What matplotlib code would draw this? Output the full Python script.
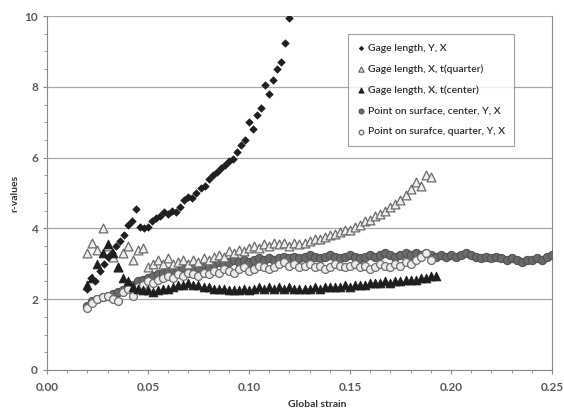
import matplotlib
matplotlib.use('Agg')
import matplotlib.pyplot as plt
from matplotlib.ticker import MultipleLocator, FormatStrFormatter

# shared strain grid (0.0025 steps) used by the four long series
strain = [0.0200, 0.0225, 0.0250, 0.0275, 0.0300, 0.0325, 0.0350, 0.0375, 0.0400, 0.0425,
          0.0450, 0.0475, 0.0500, 0.0525, 0.0550, 0.0575, 0.0600, 0.0625, 0.0650, 0.0675,
          0.0700, 0.0725, 0.0750, 0.0775, 0.0800, 0.0825, 0.0850, 0.0875, 0.0900, 0.0925,
          0.0950, 0.0975, 0.1000, 0.1025, 0.1050, 0.1075, 0.1100, 0.1125, 0.1150, 0.1175,
          0.1200, 0.1225, 0.1250, 0.1275, 0.1300, 0.1325, 0.1350, 0.1375, 0.1400, 0.1425,
          0.1450, 0.1475, 0.1500, 0.1525, 0.1550, 0.1575, 0.1600, 0.1625, 0.1650, 0.1675,
          0.1700, 0.1725, 0.1750, 0.1775, 0.1800, 0.1825, 0.1850, 0.1875, 0.1900, 0.1925,
          0.1950, 0.1975, 0.2000, 0.2025, 0.2050, 0.2075, 0.2100, 0.2125, 0.2150, 0.2175,
          0.2200, 0.2225, 0.2250, 0.2275, 0.2300, 0.2325, 0.2350, 0.2375, 0.2400, 0.2425,
          0.2450, 0.2475, 0.2500]

# Gage length, Y, X
gage_yx_x = [0.020, 0.022, 0.024, 0.026, 0.028, 0.030, 0.032, 0.034, 0.036, 0.038,
             0.040, 0.042, 0.044, 0.046, 0.048, 0.050, 0.052, 0.054, 0.056, 0.058,
             0.060, 0.062, 0.064, 0.066, 0.068, 0.070, 0.072, 0.074, 0.076, 0.078,
             0.080, 0.082, 0.084, 0.086, 0.088, 0.090, 0.092, 0.094, 0.096, 0.098,
             0.100, 0.102, 0.104, 0.106, 0.108, 0.110, 0.112, 0.114, 0.116, 0.118, 0.120]
gage_yx = [2.3, 2.6, 2.5, 2.8, 3.0, 3.2, 3.3, 3.5, 3.65, 3.8,
           4.1, 4.2, 4.55, 4.05, 4.0, 4.05, 4.2, 4.3, 4.35, 4.45,
           4.4, 4.5, 4.45, 4.6, 4.8, 4.9, 4.85, 5.0, 5.15, 5.2,
           5.4, 5.5, 5.6, 5.7, 5.8, 5.9, 5.95, 6.15, 6.35, 6.5,
           7.0, 6.8, 7.2, 7.4, 8.05, 7.8, 8.2, 8.5, 8.7, 9.25, 9.95]

# Gage length, X, t(quarter)
gage_tq = [3.3, 3.6, 3.4, 4.0, 3.5, 3.2, 2.9, 3.3, 3.5, 3.1,
           3.4, 3.45, 2.9, 3.0, 3.1, 3.0, 3.15, 3.0, 3.05, 3.1,
           3.0, 3.1, 3.05, 3.15, 3.1, 3.2, 3.25, 3.2, 3.35, 3.3,
           3.4, 3.35, 3.45, 3.5, 3.45, 3.55, 3.5, 3.6, 3.55, 3.6,
           3.5, 3.6, 3.55, 3.6, 3.65, 3.7, 3.7, 3.75, 3.8, 3.85,
           3.9, 3.95, 3.95, 4.05, 4.1, 4.2, 4.25, 4.35, 4.4, 4.5,
           4.6, 4.7, 4.8, 4.95, 5.1, 5.3, 5.2, 5.5, 5.45]

# Gage length, X, t(center)
gage_tc = [2.4, 2.6, 3.0, 3.3, 3.55, 3.3, 2.9, 2.6, 2.5, 2.35,
           2.3, 2.25, 2.25, 2.2, 2.25, 2.3, 2.3, 2.35, 2.4, 2.4,
           2.45, 2.4, 2.4, 2.35, 2.35, 2.3, 2.3, 2.3, 2.25, 2.25,
           2.25, 2.3, 2.25, 2.3, 2.35, 2.3, 2.35, 2.3, 2.35, 2.3,
           2.35, 2.3, 2.3, 2.3, 2.3, 2.35, 2.3, 2.35, 2.35, 2.35,
           2.35, 2.4, 2.35, 2.4, 2.4, 2.4, 2.45, 2.45, 2.45, 2.5,
           2.45, 2.5, 2.5, 2.55, 2.55, 2.55, 2.6, 2.6, 2.65, 2.65]

# Point on surface, center, Y, X
surf_center = [1.8, 1.95, 2.0, 2.05, 2.1, 2.15, 2.2, 2.25, 2.35, 2.4,
               2.5, 2.55, 2.6, 2.65, 2.7, 2.75, 2.8, 2.85, 2.8, 2.9,
               2.9, 2.95, 2.9, 3.0, 2.95, 3.0, 3.05, 3.0, 3.05, 3.1,
               3.05, 3.1, 3.05, 3.1, 3.15, 3.1, 3.15, 3.1, 3.15, 3.2,
               3.15, 3.2, 3.15, 3.2, 3.25, 3.2, 3.15, 3.2, 3.25, 3.2,
               3.15, 3.2, 3.25, 3.2, 3.15, 3.2, 3.25, 3.2, 3.25, 3.3,
               3.25, 3.2, 3.25, 3.3, 3.25, 3.3, 3.25, 3.3, 3.25, 3.2,
               3.25, 3.2, 3.25, 3.2, 3.25, 3.3, 3.25, 3.2, 3.15, 3.2,
               3.15, 3.2, 3.15, 3.1, 3.15, 3.1, 3.05, 3.1, 3.1, 3.15,
               3.1, 3.2, 3.25]

# Point on surafce, quarter, Y, X
surf_quarter = [1.75, 1.9, 2.0, 2.05, 2.1, 2.0, 1.95, 2.2, 2.3, 2.1,
                2.35, 2.4, 2.5, 2.45, 2.55, 2.6, 2.65, 2.6, 2.7, 2.65,
                2.75, 2.7, 2.65, 2.75, 2.7, 2.8, 2.75, 2.85, 2.8, 2.75,
                2.85, 2.9, 2.8, 2.85, 2.95, 2.9, 2.85, 2.9, 3.0, 3.05,
                2.95, 3.0, 2.9, 2.95, 3.0, 2.9, 2.95, 2.85, 2.9, 3.0,
                2.95, 2.9, 2.95, 3.0, 2.9, 2.95, 2.85, 2.9, 3.0, 2.95,
                2.9, 3.0, 2.95, 3.05, 3.0, 3.1, 3.2, 3.3, 3.1]

labels = ['Gage length, Y, X', 'Gage length, X, t(quarter)', 'Gage length, X, t(center)',
          'Point on surface, center, Y, X', 'Point on surafce, quarter, Y, X']

plt.rcParams['font.family'] = ['Lato', 'DejaVu Sans']

fig = plt.figure(figsize=(5.64, 4.16), dpi=100)
ax = fig.add_axes([0.0833, 0.1106, 0.8954, 0.8509])

ax.scatter(strain[:len(surf_center)], surf_center, s=36, marker='o',
           facecolor='#6a6a6a', edgecolor='#4e4e4e', linewidths=0.7, label=labels[3], zorder=3)
ax.scatter(strain[:len(surf_quarter)], surf_quarter, s=32, marker='o',
           facecolor='#ececec', edgecolor='#6e6e6e', linewidths=0.9, label=labels[4], zorder=4)
ax.scatter(strain[:len(gage_tq)], gage_tq, s=40, marker='^',
           facecolor='#eeeeee', edgecolor='#6a6a6a', linewidths=0.9, label=labels[1], zorder=4)
ax.scatter(strain[:len(gage_tc)], gage_tc, s=40, marker='^',
           facecolor='#1e1e1e', edgecolor='#1e1e1e', linewidths=0.6, label=labels[2], zorder=5)
ax.scatter(gage_yx_x, gage_yx, s=15, marker='D',
           facecolor='#1e1e1e', edgecolor='#1e1e1e', linewidths=0.4, label=labels[0], zorder=5)

ax.set_xlim(0, 0.25)
ax.set_ylim(0, 10)
ax.xaxis.set_major_locator(MultipleLocator(0.05))
ax.xaxis.set_minor_locator(MultipleLocator(0.01))
ax.yaxis.set_major_locator(MultipleLocator(2))
ax.yaxis.set_minor_locator(MultipleLocator(0.5))
ax.xaxis.set_major_formatter(FormatStrFormatter('%.2f'))
ax.yaxis.grid(True, color='#a8a8a8', linewidth=0.9)
ax.set_axisbelow(True)

for side in ['left', 'bottom', 'right']:
    ax.spines[side].set_color('#8a8a8a')
ax.spines['top'].set_visible(False)
ax.tick_params(which='both', direction='out', color='#8a8a8a', labelcolor='#5a5a5a',
               labelsize=8.5)
ax.tick_params(which='major', length=3)
ax.tick_params(which='minor', length=2)
ax.tick_params(axis='x', pad=6)
for t in ax.get_xticklabels() + ax.get_yticklabels():
    t.set_fontweight('bold')

fig.text(0.562, 0.018, 'Global strain', fontsize=7.5, fontweight='bold', color='#333333',
         ha='center', va='bottom')
fig.text(0.027, 0.535, 'r-values', fontsize=7.5, fontweight='bold', color='#333333',
         rotation=90, ha='center', va='center')

h, l = ax.get_legend_handles_labels()
order = [4, 2, 3, 0, 1]
leg = ax.legend([h[i] for i in order], [l[i] for i in order], loc='upper left',
                bbox_to_anchor=(0.586, 0.963), fontsize=7.5, frameon=True, fancybox=False,
                edgecolor='#8a8a8a', labelspacing=1.1, handlelength=0.6, handletextpad=0.4,
                borderpad=0.9, markerscale=0.6, scatterpoints=1)
leg.get_frame().set_linewidth(0.8)
for t in leg.get_texts():
    t.set_color('#2a2a2a')
    t.set_fontweight('semibold')

fig.savefig('out.png', dpi=100)
